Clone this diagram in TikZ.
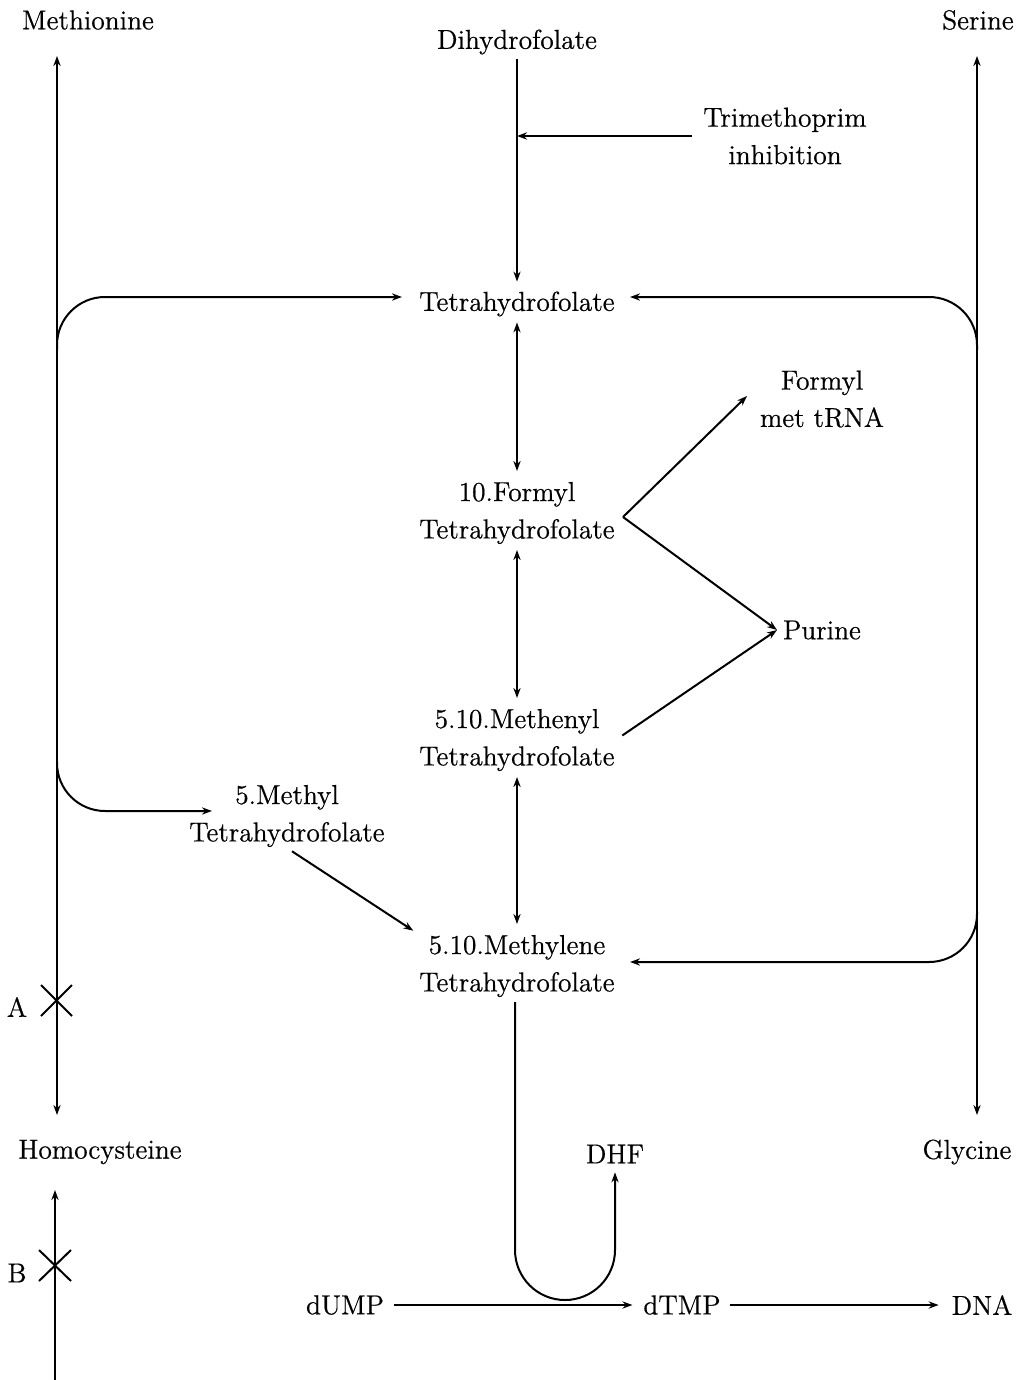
\documentclass[tikz,border=0pt]{standalone}
\usepackage{fontspec}
\setmainfont{Latin Modern Roman}[FakeBold=0.6]
\usetikzlibrary{arrows.meta}
\begin{document}
\begin{tikzpicture}[x=0.5pt,y=-0.5pt, line width=1pt,
  >={Stealth[length=5pt,width=3.6pt]},
  lbl/.style={inner sep=0pt, align=center, font=\fontsize{13.7}{18.7}\selectfont},
  rail/.style={rounded corners=24pt}]
\useasboundingbox (0,0) rectangle (1020,1380);
% nodes
\node[lbl] (meth) at (88,20) {Methionine};
\node[lbl] (dhf0) at (517,42) {Dihydrofolate};
\node[lbl] (ser) at (978,20) {Serine};
\node[lbl] (trim) at (785,136) {Trimethoprim\\inhibition};
\node[lbl] (thf) at (517,304) {Tetrahydrofolate};
\node[lbl] (form) at (517,513) {10.Formyl\\Tetrahydrofolate};
\node[lbl] (fmet) at (822,399) {Formyl\\met tRNA};
\node[lbl] (pur) at (822,630) {Purine};
\node[lbl] (menyl) at (517,740) {5.10.Methenyl\\Tetrahydrofolate};
\node[lbl] (m5) at (287,816) {5.Methyl\\Tetrahydrofolate};
\node[lbl] (mlene) at (517,966) {5.10.Methylene\\Tetrahydrofolate};
\node[lbl] (A) at (17,1007) {A};
\node[lbl] (B) at (17,1273) {B};
\node[lbl] (homo) at (100,1152) {Homocysteine};
\node[lbl] (gly) at (967,1152) {Glycine};
\node[lbl] (dhf) at (615,1154) {DHF};
\node[lbl] (dump) at (345,1305) {dUMP};
\node[lbl] (dtmp) at (682,1305) {dTMP};
\node[lbl] (dna) at (982,1305) {DNA};
% coordinates
\coordinate (Ltop) at (57,56);
\coordinate (Lbot) at (57,1115);
\coordinate (Rtop) at (977,56);
\coordinate (Rbot) at (977,1115);
\coordinate (Btop) at (55,1190);
\coordinate (Bbot) at (55,1380);
\coordinate (thfL) at (402,297);
\coordinate (thfR) at (630,297);
\coordinate (m5L) at (212,811);
\coordinate (mleneR) at (630,962);
\coordinate (fv) at (623,517);
\coordinate (fmetT) at (747,396);
\coordinate (purT) at (777,630);
\coordinate (uL) at (515,1250);
% rails
\draw[<->] (Lbot) -- (Ltop);
\draw[<->] (Rbot) -- (Rtop);
\draw[->] (Bbot) -- (Btop);
% crosses
\draw (41,985) -- (72,1016) (41,1016) -- (72,985);
\draw (39,1250) -- (71,1281) (39,1281) -- (71,1250);
% curved branches
\draw[->, rail] (57,350) -- (57,297) -- (thfL);
\draw[->, rail] (977,350) -- (977,297) -- (thfR);
\draw[->, rail] (57,762) -- (57,811) -- (m5L);
\draw[->, rail] (977,912) -- (977,962) -- (mleneR);
% main column
\draw[->, shorten <=2pt, shorten >=4.5pt] (dhf0.south) -- (thf.north);
\draw[->, shorten <=5pt] (trim.west) -- (trim.west -| thf);
\draw[<->, shorten <=2.5pt, shorten >=5pt] (thf.south) -- (form.north);
\draw[<->, shorten <=2.5pt, shorten >=5pt] (form.south) -- (menyl.north);
\draw[<->, shorten <=2.5pt, shorten >=5pt] (menyl.south) -- (mlene.north);
% branches
\draw[->] (fv) -- (fmetT);
\draw[->] (fv) -- (purT);
\draw[->, shorten <=4pt] (menyl.east) -- (purT);
\draw[->, shorten <=3pt, shorten >=3pt] (m5.south) -- (mlene.north west);
% thymidylate
\draw[->, shorten <=2pt, shorten >=4pt] (mlene.south -| uL) -- (uL)
  arc[start angle=180, end angle=360, radius=25pt] -- (dhf.south);
\draw[->, shorten <=4.5pt, shorten >=5pt] (dump.east) -- (dtmp.west);
\draw[->, shorten <=4pt, shorten >=6pt] (dtmp.east) -- (dna.west);
\end{tikzpicture}
\end{document}
